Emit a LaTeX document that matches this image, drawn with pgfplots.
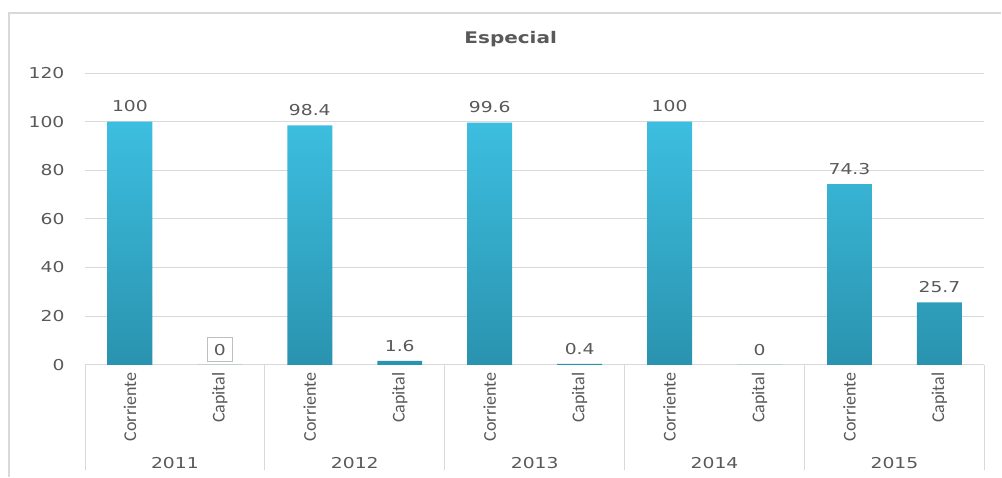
\documentclass[border=0pt]{standalone}
\usepackage{fontspec}
\setmainfont{Carlito}
\newfontfamily\numfont[FakeStretch=1.25]{DejaVu Sans}
\usepackage{pgfplots}
\pgfplotsset{compat=1.18}
\usetikzlibrary{calc}
\definecolor{txt}{HTML}{595959}
\definecolor{gridc}{HTML}{D9D9D9}
\definecolor{boxc}{HTML}{BFBFBF}
\definecolor{bartop}{HTML}{3DBEE0}
\definecolor{barbot}{HTML}{2A93AF}
\setlength\fboxsep{6pt}
\setlength\fboxrule{1pt}
\newcommand\zerobox{\smash{\fcolorbox{boxc}{white}{0}}}
\newcommand\numsize{\numfont\fontsize{15}{18}\selectfont}
\begin{document}
\begin{tikzpicture}
\begin{axis}[
    name=ax,
    scale only axis,
    width=900pt, height=292pt,
    xmin=-0.5, xmax=9.5,
    ymin=0, ymax=120,
    ytick={0,20,...,120},
    xtick={0,...,9},
    xticklabels={Corriente,Capital,Corriente,Capital,Corriente,Capital,Corriente,Capital,Corriente,Capital},
    x tick label style={rotate=90, anchor=east, font=\fontsize{18}{21}\selectfont, text=txt},
    /pgf/number format/assume math mode=true,
    yticklabel style={font=\numsize, text=txt, xshift=-17pt},
    ymajorgrids,
    grid style={gridc, line width=0.8pt},
    axis x line*=bottom,
    axis y line*=left,
    x axis line style={gridc, line width=0.8pt, -},
    y axis line style={draw=none},
    tick style={draw=none},
    ybar, bar width=45pt,
    clip=false,
]
\addplot[draw=none, top color=bartop, bottom color=barbot,
    nodes near coords, point meta=explicit symbolic,
    every node near coord/.append style={font=\numsize, text=txt, anchor=south, yshift=6pt}]
coordinates {
(0,100) [100]
(1,0) [\zerobox]
(2,98.4) [98.4]
(3,1.6) [1.6]
(4,99.6) [99.6]
(5,0.4) [0.4]
(6,100) [100]
(7,0) [0]
(8,74.3) [74.3]
(9,25.7) [25.7]
};
\end{axis}
% separators and years
\foreach \i in {0,...,5}
  \draw[gridc, line width=0.8pt] ($(ax.south west)+(180pt*\i,0)$) -- ++(0,-105pt);
\foreach \i/\yr in {0/2011,1/2012,2/2013,3/2014,4/2015}
  \node[font=\numsize, text=txt] at ($(ax.south west)+(180pt*\i+90pt,-98pt)$) {\yr};
% title
\node[font=\numfont\bfseries\fontsize{16}{19}\selectfont, text=txt] at ($(ax.north west)+(426pt,34pt)$) {Especial};
% outer frame
\draw[gridc, line width=1.2pt] ($(ax.south west)+(-76pt,-112pt)$) |- ($(ax.north east)+(17pt,60pt)$);
\path[use as bounding box] ($(ax.south west)+(-85pt,-112pt)$) rectangle ($(ax.north east)+(17pt,73pt)$);
\end{tikzpicture}
\end{document}
